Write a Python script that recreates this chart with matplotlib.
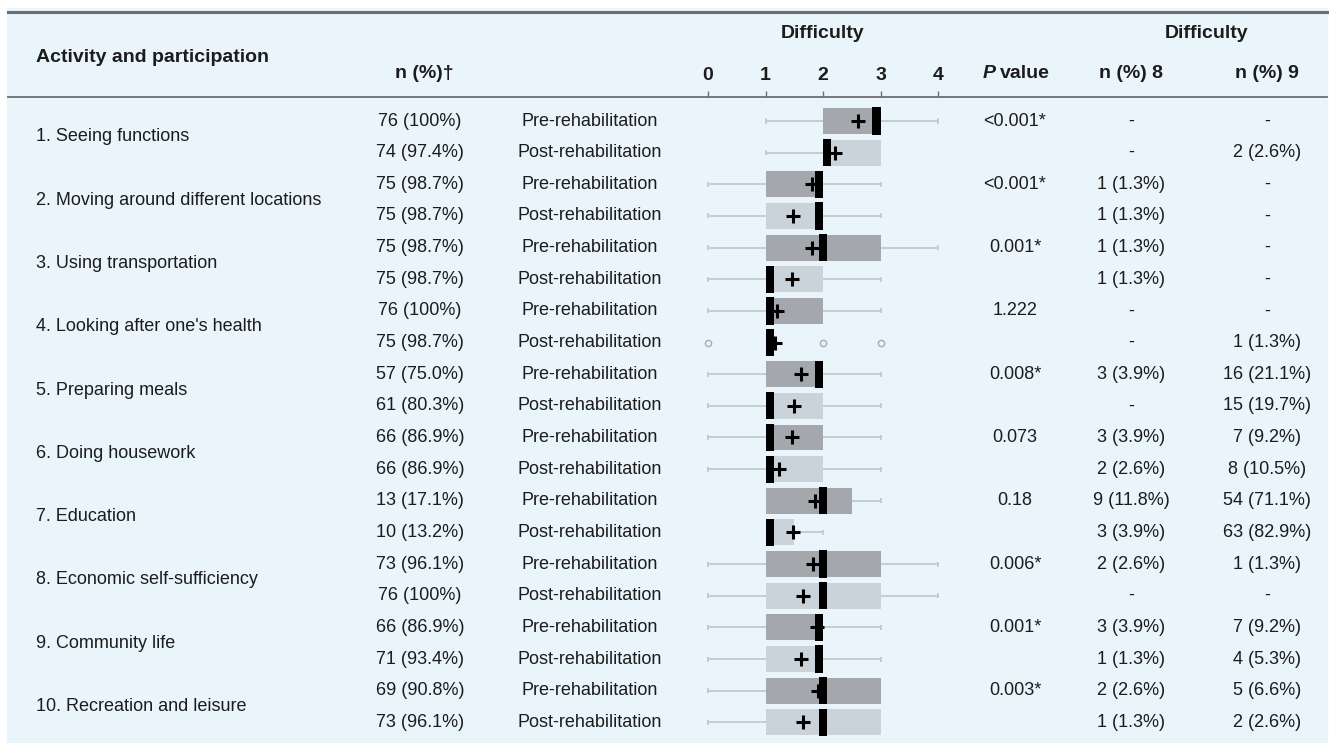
import numpy as np
import matplotlib
matplotlib.use("Agg")
import matplotlib.pyplot as plt
from matplotlib.patches import Rectangle
from matplotlib.transforms import blended_transform_factory

plt.rcParams['font.family'] = ['Liberation Sans', 'DejaVu Sans']

# table contents
activities = ["1. Seeing functions", "2. Moving around different locations",
              "3. Using transportation", "4. Looking after one's health",
              "5. Preparing meals", "6. Doing housework", "7. Education",
              "8. Economic self-sufficiency", "9. Community life",
              "10. Recreation and leisure"]
n_pre = ["76 (100%)", "75 (98.7%)", "75 (98.7%)", "76 (100%)", "57 (75.0%)",
         "66 (86.9%)", "13 (17.1%)", "73 (96.1%)", "66 (86.9%)", "69 (90.8%)"]
n_post = ["74 (97.4%)", "75 (98.7%)", "75 (98.7%)", "75 (98.7%)", "61 (80.3%)",
          "66 (86.9%)", "10 (13.2%)", "76 (100%)", "71 (93.4%)", "73 (96.1%)"]
p_values = ["<0.001*", "<0.001*", "0.001*", "1.222", "0.008*",
            "0.073", "0.18", "0.006*", "0.001*", "0.003*"]
d8_pre = ["-", "1 (1.3%)", "1 (1.3%)", "-", "3 (3.9%)",
          "3 (3.9%)", "9 (11.8%)", "2 (2.6%)", "3 (3.9%)", "2 (2.6%)"]
d8_post = ["-", "1 (1.3%)", "1 (1.3%)", "-", "-",
           "2 (2.6%)", "3 (3.9%)", "-", "1 (1.3%)", "1 (1.3%)"]
d9_pre = ["-", "-", "-", "-", "16 (21.1%)",
          "7 (9.2%)", "54 (71.1%)", "1 (1.3%)", "7 (9.2%)", "5 (6.6%)"]
d9_post = ["2 (2.6%)", "-", "-", "1 (1.3%)", "15 (19.7%)",
           "8 (10.5%)", "63 (82.9%)", "-", "4 (5.3%)", "2 (2.6%)"]
phases = ["Pre-rehabilitation", "Post-rehabilitation"]

# box summaries, pre/post alternating: whisker low, Q1, median, Q3, whisker high, mean
whislo = [1, 1, 0, 0, 0, 0, 0, 1, 0, 0, 0, 0, 1, 1, 0, 0, 0, 0, 0, 0]
q1     = [2, 2, 1, 1, 1, 1, 1, 1, 1, 1, 1, 1, 1, 1, 1, 1, 1, 1, 1, 1]
median = [3, 2, 2, 2, 2, 1, 1, 1, 2, 1, 1, 1, 2, 1, 2, 2, 2, 2, 2, 2]
q3     = [3, 3, 2, 2, 3, 2, 2, 1, 2, 2, 2, 2, 2.5, 1.5, 3, 3, 2, 2, 3, 3]
whishi = [4, 3, 3, 3, 4, 3, 3, 1, 3, 3, 3, 3, 3, 2, 4, 4, 3, 3, 3, 3]
means  = [2.61, 2.21, 1.81, 1.48, 1.81, 1.46, 1.2, 1.17, 1.62, 1.5,
          1.46, 1.23, 1.86, 1.48, 1.83, 1.65, 1.9, 1.62, 1.91, 1.65]
fliers = {7: [0, 2, 3]}

W, H = 1329, 743
PANEL = "#e9f4fb"
TXT = "#1c1c1c"
PRE_C, POST_C = "#a4a7ac", "#cbd3da"
WHISK = "#bcc3c9"
FS = 13
HFS = 14

fig = plt.figure(figsize=(W / 100, H / 100), dpi=100)
fig.patch.set_facecolor("white")

# background axes in pixel units
bg = fig.add_axes([0, 0, 1, 1])
bg.set_xlim(0, W)
bg.set_ylim(H, 0)
bg.axis("off")
bg.add_patch(Rectangle((7, 8), 1320, H - 8, color=PANEL, zorder=0))
bg.plot([8, 1327], [11.5, 11.5], color="#6b6f73", lw=2.2, zorder=1)
bg.plot([8, 1327], [97, 97], color="#6b6f73", lw=1.3, zorder=1)

# box plot axes: difficulty 0..4 across, one row per assessment
bx_left, bx_right, bx_top = 690, 960, 97
x0_px, unit_px = 708, 57.5
row0_px, row_px = 121, 31.65
bx = fig.add_axes([bx_left / W, 0, (bx_right - bx_left) / W, (H - bx_top) / H])
bx.set_xlim((bx_left - x0_px) / unit_px, (bx_right - x0_px) / unit_px)
bx.set_ylim((H - row0_px) / row_px, (bx_top - row0_px) / row_px)
bx.patch.set_alpha(0)
for s in bx.spines.values():
    s.set_visible(False)
bx.set_yticks([])
bx.xaxis.tick_top()
bx.set_xticks([0, 1, 2, 3, 4])
bx.tick_params(axis="x", direction="out", length=4, width=1, color="#6b6f73",
               pad=5, labelsize=HFS, labelcolor=TXT)
for lbl in bx.get_xticklabels():
    lbl.set_fontweight("bold")

rows = np.arange(len(median))
box_h, med_w = 0.82, 0.14
for i in rows:
    color = PRE_C if i % 2 == 0 else POST_C
    if whislo[i] < q1[i]:
        bx.hlines(i, whislo[i], q1[i], color=WHISK, lw=1.1, zorder=1)
        bx.vlines(whislo[i], i - 0.08, i + 0.08, color=WHISK, lw=1.1, zorder=1)
    if whishi[i] > q3[i]:
        bx.hlines(i, q3[i], whishi[i], color=WHISK, lw=1.1, zorder=1)
        bx.vlines(whishi[i], i - 0.08, i + 0.08, color=WHISK, lw=1.1, zorder=1)
    bx.barh(i, q3[i] - q1[i], left=q1[i], height=box_h, color=color, zorder=2)
    # median bar sits inside the box when it touches a quartile
    if median[i] >= q3[i] and q3[i] > q1[i]:
        m_left = median[i] - med_w
    elif median[i] <= q1[i]:
        m_left = median[i]
    else:
        m_left = median[i] - med_w / 2
    bx.barh(i, med_w, left=m_left, height=box_h + 0.04, color="black", zorder=3)
    bx.plot(means[i], i, marker="+", ms=10, mew=2.2, color="black", zorder=4)
    if i in fliers:
        bx.plot(fliers[i], [i] * len(fliers[i]), "o", ms=4.5, mfc="none",
                mec="#a8acb0", mew=1, zorder=2)

# table text: x in pixels, y in row units
tr = blended_transform_factory(bg.transData, bx.transData)
cell = dict(transform=tr, ha="center", va="center", fontsize=FS, color=TXT)
for k in range(len(activities)):
    yp, yq = 2 * k, 2 * k + 1
    bg.text(36, yp + 0.5, activities[k], transform=tr, ha="left", va="center",
            fontsize=FS, color=TXT)
    bg.text(420, yp, n_pre[k], **cell)
    bg.text(420, yq, n_post[k], **cell)
    bg.text(590, yp, phases[0], **cell)
    bg.text(590, yq, phases[1], **cell)
    bg.text(1015, yp, p_values[k], **cell)
    bg.text(1131, yp, d8_pre[k], **cell)
    bg.text(1131, yq, d8_post[k], **cell)
    bg.text(1267, yp, d9_pre[k], **cell)
    bg.text(1267, yq, d9_post[k], **cell)

# header
hd = dict(fontsize=HFS, fontweight="bold", color=TXT, va="center")
bg.text(36, 58, "Activity and participation", ha="left", **hd)
bg.text(424, 74, "n (%)†", ha="center", **hd)
bg.text(823, 33, "Difficulty", ha="center", **hd)
bg.text(1207, 33, "Difficulty", ha="center", **hd)
bg.text(996, 74, "P", ha="right", fontstyle="italic", **hd)
bg.text(1000, 74, "value", ha="left", **hd)
bg.text(1131, 74, "n (%) 8", ha="center", **hd)
bg.text(1267, 74, "n (%) 9", ha="center", **hd)

fig.savefig("out.png", dpi=100, facecolor="white")
